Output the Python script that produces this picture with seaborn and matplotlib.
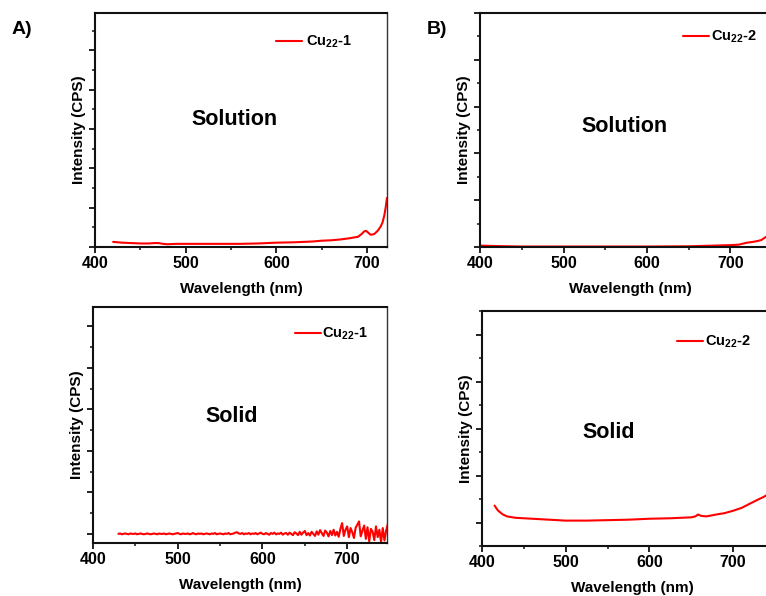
import numpy as np
import pandas as pd
import matplotlib
matplotlib.use("Agg")
import matplotlib.pyplot as plt
import seaborn as sns
from matplotlib.ticker import MultipleLocator, NullFormatter

sns.set_theme(style="ticks")
plt.rcParams['font.family'] = ['Liberation Sans', 'DejaVu Sans']
plt.rcParams['font.weight'] = 'bold'
plt.rcParams['text.color'] = 'black'
plt.rcParams['axes.labelcolor'] = 'black'
plt.rcParams['xtick.color'] = 'black'
plt.rcParams['ytick.color'] = 'black'
plt.rcParams['mathtext.fontset'] = 'custom'
plt.rcParams['mathtext.bf'] = 'Liberation Sans:bold'
plt.rcParams['mathtext.rm'] = 'Liberation Sans:bold'
plt.rcParams['mathtext.default'] = 'bf'

# ---------------- data ----------------
# A) Solution, Cu22-1
wl_a_sol = [420, 430, 440, 450, 460, 465, 470, 475, 480, 490, 500, 520, 540, 560,
            580, 600, 620, 640, 650, 660, 670, 680, 690, 694, 697, 699, 701, 704,
            708, 712, 715, 717, 719, 720.5, 722]
int_a_sol = [0.13, 0.11, 0.10, 0.09, 0.09, 0.10, 0.10, 0.08, 0.07, 0.08, 0.08, 0.08, 0.08, 0.08,
             0.09, 0.11, 0.12, 0.14, 0.16, 0.17, 0.19, 0.22, 0.26, 0.33, 0.40, 0.41, 0.37, 0.31,
             0.33, 0.42, 0.52, 0.62, 0.80, 1.00, 1.25]

# A) Solid, Cu22-1 (2 nm steps, 430-750 nm)
wl_a_sld = list(range(430, 751, 2))
int_a_sld = [
    0.00, 0.01, -0.01, 0.00, 0.01, 0.00, -0.01, 0.01, 0.00, 0.00,
    0.01, -0.01, 0.00, 0.01, 0.00, -0.01, 0.00, 0.01, 0.00, -0.01,
    0.00, 0.01, 0.00, -0.01, 0.01, 0.00, 0.00, 0.01, -0.01, 0.00,
    0.01, 0.00, -0.01, 0.00, 0.01, 0.02, 0.00, -0.01, 0.01, 0.00,
    0.00, 0.01, -0.01, 0.00, 0.02, 0.00, -0.01, 0.01, 0.00, 0.01,
    -0.01, 0.00, 0.01, 0.00, -0.01, 0.01, 0.00, 0.02, -0.01, 0.00,
    0.01, 0.00, -0.01, 0.01, 0.00, 0.02, -0.01, 0.00, 0.01, 0.03,
    0.04, 0.01, 0.00, 0.02, -0.01, 0.01, 0.00, 0.02, -0.01, 0.01,
    0.00, 0.02, -0.01, 0.01, 0.03, 0.00, -0.01, 0.02, 0.00, -0.02,
    0.02, 0.00, 0.03, -0.01, 0.01, 0.00, 0.03, -0.02, 0.01, 0.02,
    -0.02, 0.03, 0.00, -0.03, 0.04, 0.01, -0.03, 0.05, -0.02, 0.03,
    0.07, -0.03, 0.02, -0.04, 0.05, 0.00, -0.05, 0.06, -0.02, 0.09,
    0.02, -0.05, 0.08, 0.03, -0.06, 0.07, -0.03, 0.10, -0.04, 0.05,
    -0.07, 0.12, 0.26, -0.05, 0.10, 0.18, -0.08, 0.14, 0.04, -0.10,
    0.15, 0.22, 0.30, -0.06, 0.08, 0.20, -0.12, 0.16, -0.18, 0.12,
    0.05, -0.15, 0.18, -0.08, 0.10, -0.20, 0.14, -0.16, 0.08, 0.24,
    0.28]

# B) Solution, Cu22-2
wl_b_sol = [400, 420, 450, 500, 550, 600, 650, 680, 700, 710, 719, 727, 733, 737, 742, 748, 755, 760]
int_b_sol = [0.03, 0.02, 0.01, 0.01, 0.01, 0.01, 0.015, 0.03, 0.04, 0.05, 0.09, 0.11, 0.13, 0.15,
             0.21, 0.28, 0.37, 0.45]

# B) Solid, Cu22-2
wl_b_sld = [415, 418, 420, 425, 430, 440, 460, 480, 500, 525, 550, 575, 600, 625, 650, 655,
            658, 662, 668, 680, 690, 700, 710, 720, 730, 736, 742, 750, 760]
int_b_sld = [0.36, 0.28, 0.24, 0.17, 0.13, 0.10, 0.08, 0.06, 0.04, 0.04, 0.05, 0.06, 0.08, 0.09,
             0.11, 0.13, 0.17, 0.14, 0.13, 0.17, 0.20, 0.25, 0.31, 0.40, 0.49, 0.54, 0.60, 0.72, 0.90]

xticks = [400, 500, 600, 700]
x_label = "Wavelength (nm)"
y_label = "Intensity (CPS)"

W, H = 766, 596
fig = plt.figure(figsize=(W / 100, H / 100), dpi=100)


def px_axes(left, top, right, bottom):
    return fig.add_axes([left / W, (H - bottom) / H, (right - left) / W, (bottom - top) / H])


panels = [
    ((95, 13, 387, 247), (400, 722), (0, 5.95), wl_a_sol, int_a_sol, "Cu$_{22}$-1", "Solution", (234, 120), (276, 42), 0.25),
    ((480, 13, 480 + 0.835 * 360, 247), (400, 760), (0, 5.0), wl_b_sol, int_b_sol, "Cu$_{22}$-2", "Solution", (625, 126), (683, 37), 0.1),
    ((93, 307, 387, 543), (400, 747), (-0.22, 5.47), wl_a_sld, int_a_sld, "Cu$_{22}$-1", "Solid", (232, 417), (295, 334), 0.05),
    ((482, 311, 482 + 0.837 * 360, 546), (400, 760), (-0.5, 4.5), wl_b_sld, int_b_sld, "Cu$_{22}$-2", "Solid", (609, 433), (677, 342), 0.1),
]

for box, xlim, ylim, wl, inten, lab, name, npos, lpos, htp in panels:
    ax = px_axes(*box)
    df = pd.DataFrame({"Wavelength": wl, "Intensity": inten})
    sns.lineplot(data=df, x="Wavelength", y="Intensity", ax=ax, color="#ff0000",
                 linewidth=1.5, label=lab)
    ax.set_xlim(*xlim)
    ax.set_ylim(*ylim)
    ax.set_xticks(xticks)
    ax.xaxis.set_minor_locator(MultipleLocator(50))
    ax.yaxis.set_major_locator(MultipleLocator(1))
    ax.yaxis.set_minor_locator(MultipleLocator(0.5))
    ax.yaxis.set_major_formatter(NullFormatter())
    ax.tick_params(axis="both", which="major", direction="out", length=4, width=1.3,
                   color="#111111", labelcolor="black", labelsize=11.5, pad=2.5)
    ax.tick_params(axis="both", which="minor", direction="out", length=2.5, width=1.1,
                   color="#111111")
    ax.tick_params(top=False, right=False, which="both")
    for side in ["left", "bottom", "top"]:
        ax.spines[side].set_linewidth(1.5)
        ax.spines[side].set_color("#111111")
    ax.spines["right"].set_linewidth(1.0)
    ax.spines["right"].set_color("#333333")
    for t in ax.get_xticklabels():
        t.set_fontweight("bold")
    ax.set_xlabel(x_label, fontsize=11, fontweight="bold", labelpad=8, color="black")
    ax.set_ylabel(y_label, fontsize=11, fontweight="bold", color="black")
    ax.yaxis.set_label_coords(-9 / (box[2] - box[0]), 0.5)
    fig.text(npos[0] / W, 1 - npos[1] / H, name, fontsize=15.5, fontweight="bold",
             ha="center", va="center", color="black")
    leg = ax.legend(loc="center left", bbox_to_anchor=(lpos[0] / W, 1 - lpos[1] / H),
                    bbox_transform=fig.transFigure, frameon=False, fontsize=10.5,
                    handlelength=1.8, handletextpad=htp, borderpad=0, borderaxespad=0)
    for t in leg.get_texts():
        t.set_fontweight("bold")
        t.set_color("black")

fig.text(12 / W, 1 - 30 / H, "A)", fontsize=14, fontweight="bold", ha="left", va="center", color="black")
fig.text(427 / W, 1 - 29 / H, "B)", fontsize=14, fontweight="bold", ha="left", va="center", color="black")

fig.savefig("out.png", dpi=100)
